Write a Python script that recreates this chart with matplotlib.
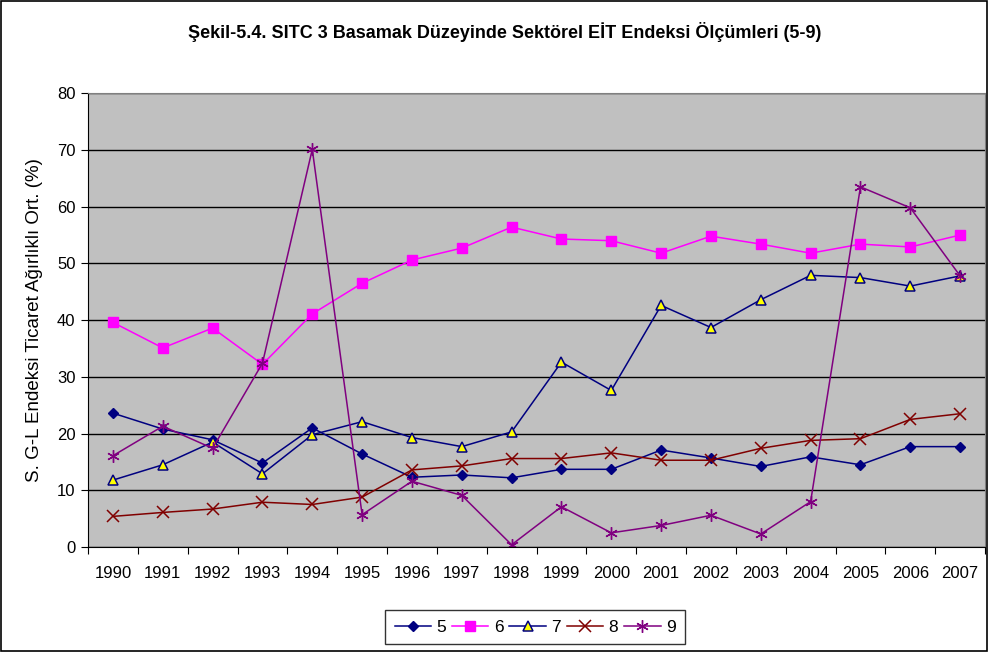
import matplotlib
matplotlib.use("Agg")
import matplotlib.pyplot as plt
from matplotlib.patches import Rectangle

plt.rcParams['font.family'] = ['Liberation Sans', 'DejaVu Sans']

years = [str(y) for y in range(1990, 2008)]

s5 = [23.6, 20.8, 18.9, 14.8, 21.0, 16.4, 12.3, 12.7, 12.2, 13.7, 13.7, 17.1, 15.7, 14.2, 15.9, 14.5, 17.7, 17.7]
s6 = [39.6, 35.1, 38.6, 32.2, 41.1, 46.5, 50.6, 52.7, 56.4, 54.3, 54.0, 51.8, 54.8, 53.4, 51.8, 53.4, 52.9, 55.0]
s7 = [11.8, 14.5, 18.5, 12.9, 19.8, 22.1, 19.3, 17.7, 20.3, 32.6, 27.6, 42.6, 38.7, 43.6, 47.9, 47.5, 46.0, 47.8]
s8 = [5.4, 6.1, 6.7, 7.9, 7.5, 8.8, 13.6, 14.3, 15.6, 15.6, 16.6, 15.3, 15.3, 17.4, 18.8, 19.1, 22.5, 23.5]
s9 = [16.1, 21.3, 17.4, 32.4, 70.1, 5.7, 11.6, 9.1, 0.4, 7.1, 2.5, 3.8, 5.6, 2.3, 8.0, 63.5, 59.8, 47.8]

fig = plt.figure(figsize=(9.89, 6.52), dpi=100)
fig.patches.append(Rectangle((0.001, 0.001), 0.997, 0.997, transform=fig.transFigure,
                             fill=False, edgecolor='black', linewidth=1.2))
ax = fig.add_axes([0.089, 0.161, 0.907, 0.696])
ax.set_facecolor('#C0C0C0')

x = list(range(len(years)))
ax.plot(x, s5, color='#000080', marker='D', markersize=5.5, linewidth=1.1, label='5')
ax.plot(x, s6, color='#FF00FF', marker='s', markersize=6.5, linewidth=1.1, label='6')
ax.plot(x, s7, color='#000080', marker='^', markersize=7, markerfacecolor='#FFFF00',
        markeredgecolor='#000080', markeredgewidth=1.1, linewidth=1.1, label='7')
ax.plot(x, s8, color='#800000', marker='x', markersize=9, markeredgewidth=1.1, linewidth=1.1, label='8')
ax.plot(x, s9, color='#800080', marker=(6, 2, 0), markersize=9, markeredgewidth=1.0, linewidth=1.1, label='9')

ax.set_xlim(-0.5, len(years) - 0.5)
ax.set_ylim(0, 80)
ax.set_yticks(range(0, 81, 10))
ax.yaxis.grid(True, color='black', linewidth=1)
ax.set_axisbelow(True)

ax.set_xticks([i - 0.5 for i in range(len(years) + 1)])
ax.set_xticklabels([])
ax.set_xticks(x, minor=True)
ax.set_xticklabels(years, minor=True)
ax.tick_params(axis='x', which='minor', length=0, pad=14, labelsize=12)
ax.tick_params(axis='x', which='major', length=5, direction='out')
ax.tick_params(axis='y', length=5, direction='out', labelsize=12, pad=4)

for side in ['top', 'right']:
    ax.spines[side].set_color('#808080')
ax.spines['left'].set_color('black')
ax.spines['bottom'].set_color('black')

ax.set_ylabel('S. G-L Endeksi Ticaret Ağırlıklı Ort. (%)', fontsize=13.5, labelpad=10)

fig.text(0.51, 0.951, 'Şekil-5.4. SITC 3 Basamak Düzeyinde Sektörel EİT Endeksi Ölçümleri (5-9)',
         ha='center', va='center', fontsize=13, fontweight='bold')

leg = fig.legend(loc='center', bbox_to_anchor=(0.541, 0.038), ncol=5, frameon=True,
                 fontsize=12.5, fancybox=False, edgecolor='black', handlelength=2.1,
                 columnspacing=0.35, handletextpad=0.3, borderpad=0.55)
leg.get_frame().set_linewidth(1)

fig.savefig('out.png', dpi=100)
